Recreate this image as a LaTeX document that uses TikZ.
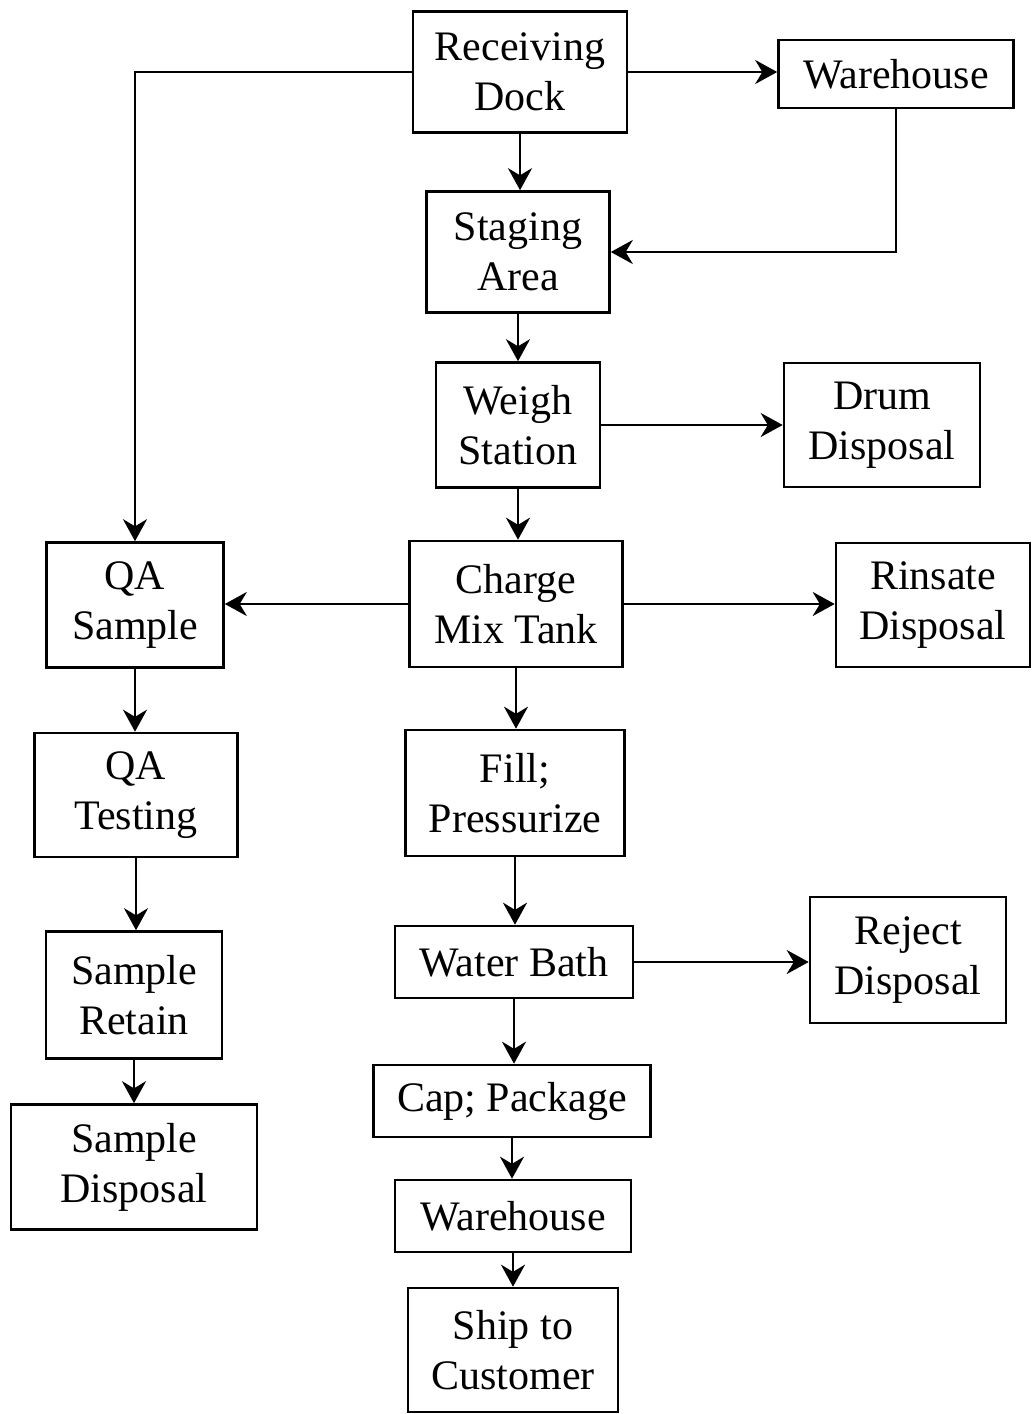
\documentclass[tikz,border=0pt]{standalone}
\usepackage{fontspec}
\setmainfont{Liberation Serif}
\usetikzlibrary{arrows.meta}
\begin{document}
\begin{tikzpicture}[x=1pt,y=-1pt,
  box/.style={draw,line width=2.6pt,inner sep=0pt,align=center,
    font=\fontsize{42}{50}\selectfont},
  flow/.style={line width=2.6pt,-{Stealth[length=22pt,width=24pt]}}]
\useasboundingbox (0,0) rectangle (1032,1414);

% main column
\node[box,minimum width=214pt,minimum height=121pt] (recv) at (520,72) {Receiving\\Dock};
\node[box,minimum width=235pt,minimum height=68pt] (wh1) at (896,74) {Warehouse};
\node[box,minimum width=183pt,minimum height=121pt] (stage) at (518,252) {Staging\\Area};
\node[box,minimum width=164pt,minimum height=125pt] (weigh) at (518,425) {Weigh\\Station};
\node[box,minimum width=196pt,minimum height=124pt] (drum) at (882,425) {Drum\\Disposal};
\node[box,minimum width=213pt,minimum height=126pt] (mix) at (516,604) {Charge\\Mix Tank};
\node[box,minimum width=194pt,minimum height=124pt] (rinse) at (933,605) {Rinsate\\Disposal};
\node[box,minimum width=219pt,minimum height=126pt] (fill) at (515,793) {Fill;\\Pressurize};
\node[box,minimum width=238pt,minimum height=72pt] (bath) at (514,962) {Water Bath};
\node[box,minimum width=196pt,minimum height=126pt] (reject) at (908,960) {Reject\\Disposal};
\node[box,minimum width=277pt,minimum height=72pt] (cap) at (512,1101) {Cap; Package};
\node[box,minimum width=236pt,minimum height=72pt] (wh2) at (513,1216) {Warehouse};
\node[box,minimum width=210pt,minimum height=124pt] (ship) at (513,1350) {Ship to\\Customer};

% QA column
\node[box,minimum width=177pt,minimum height=125pt] (qas) at (135,605) {QA\\Sample};
\node[box,minimum width=203pt,minimum height=124pt] (qat) at (136,795) {QA\\Testing};
\node[box,minimum width=176pt,minimum height=127pt] (ret) at (134,995) {Sample\\Retain};
\node[box,minimum width=246pt,minimum height=125pt] (sdisp) at (134,1167) {Sample\\Disposal};

% connectors
\draw[flow] (recv.east) -- (recv.east -| wh1.west);
\draw[flow] (recv.south) -- (recv.south |- stage.north);
\draw[flow] (wh1.south) |- (stage.east);
\draw[flow] (recv.west) -| (qas.north);
\draw[flow] (stage.south) -- (stage.south |- weigh.north);
\draw[flow] (weigh.east) -- (weigh.east -| drum.west);
\draw[flow] (weigh.south) -- (weigh.south |- mix.north);
\draw[flow] (mix.west) -- (mix.west -| qas.east);
\draw[flow] (mix.east) -- (mix.east -| rinse.west);
\draw[flow] (mix.south) -- (mix.south |- fill.north);
\draw[flow] (fill.south) -- (fill.south |- bath.north);
\draw[flow] (bath.east) -- (bath.east -| reject.west);
\draw[flow] (bath.south) -- (bath.south |- cap.north);
\draw[flow] (cap.south) -- (cap.south |- wh2.north);
\draw[flow] (wh2.south) -- (wh2.south |- ship.north);
\draw[flow] (qas.south) -- (qas.south |- qat.north);
\draw[flow] (qat.south) -- (qat.south |- ret.north);
\draw[flow] (ret.south) -- (ret.south |- sdisp.north);
\end{tikzpicture}
\end{document}
